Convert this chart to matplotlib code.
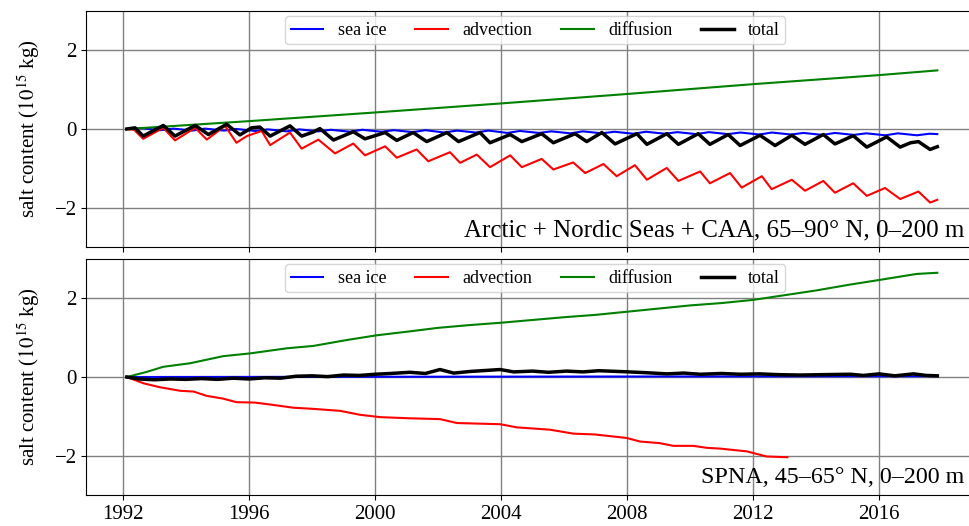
import matplotlib
matplotlib.use('Agg')
import matplotlib.pyplot as plt

plt.rcParams['font.family'] = ['Liberation Serif', 'DejaVu Serif']
plt.rcParams['mathtext.fontset'] = 'stix'

# ---- Arctic + Nordic Seas + CAA (top panel) ----
ice_arc_t = [1992.1, 1992.6, 1993.2, 1993.6, 1994.2, 1994.6, 1995.2, 1995.6, 1996.2, 1996.6,
             1997.2, 1997.6, 1998.2, 1998.6, 1999.2, 1999.6, 2000.2, 2000.6, 2001.2, 2001.6,
             2002.2, 2002.6, 2003.2, 2003.6, 2004.2, 2004.6, 2005.2, 2005.6, 2006.2, 2006.6,
             2007.2, 2007.6, 2008.2, 2008.6, 2009.2, 2009.6, 2010.2, 2010.6, 2011.2, 2011.6,
             2012.2, 2012.6, 2013.2, 2013.6, 2014.2, 2014.6, 2015.2, 2015.6, 2016.2, 2016.6,
             2017.2, 2017.6, 2017.85]
ice_arc = [0.00, 0.02, -0.03, 0.01, -0.04, 0.01, -0.04, 0.00, -0.05, -0.01,
           -0.06, -0.01, -0.06, -0.02, -0.07, -0.02, -0.07, -0.03, -0.08, -0.03,
           -0.09, -0.04, -0.09, -0.04, -0.10, -0.05, -0.10, -0.06, -0.11, -0.06,
           -0.11, -0.07, -0.12, -0.07, -0.12, -0.08, -0.13, -0.08, -0.13, -0.09,
           -0.14, -0.09, -0.14, -0.10, -0.15, -0.10, -0.15, -0.11, -0.16, -0.11,
           -0.16, -0.12, -0.13]

adv_arc_t = [1992.12, 1992.35, 1992.64, 1993.28, 1993.65, 1994.29, 1994.66, 1995.24, 1995.60, 1995.93,
             1996.40, 1996.67, 1997.30, 1997.67, 1998.20, 1998.73, 1999.31, 1999.68, 2000.32, 2000.69,
             2001.32, 2001.69, 2002.38, 2002.70, 2003.23, 2003.65, 2004.29, 2004.66, 2005.29, 2005.66,
             2006.29, 2006.67, 2007.25, 2007.67, 2008.25, 2008.63, 2009.26, 2009.63, 2010.32, 2010.63,
             2011.27, 2011.64, 2012.28, 2012.59, 2013.23, 2013.65, 2014.23, 2014.60, 2015.18, 2015.61,
             2016.19, 2016.67, 2017.25, 2017.62, 2017.85]
adv_arc = [0.00, -0.02, -0.25, 0.03, -0.29, 0.03, -0.27, 0.08, -0.35, -0.18,
           -0.05, -0.41, -0.09, -0.50, -0.27, -0.62, -0.37, -0.67, -0.44, -0.73,
           -0.52, -0.82, -0.59, -0.86, -0.65, -0.97, -0.67, -0.97, -0.76, -1.03,
           -0.85, -1.12, -0.89, -1.20, -0.92, -1.29, -0.99, -1.32, -1.08, -1.38,
           -1.12, -1.49, -1.20, -1.53, -1.29, -1.57, -1.32, -1.62, -1.38, -1.70,
           -1.50, -1.78, -1.59, -1.87, -1.80]

dif_arc_t = [1992.12, 1996.0, 2000.0, 2004.0, 2008.0, 2012.0, 2016.0, 2017.85]
dif_arc = [0.00, 0.20, 0.42, 0.65, 0.89, 1.14, 1.37, 1.49]

tot_arc_t = [1992.12, 1992.38, 1992.64, 1993.28, 1993.65, 1994.29, 1994.71, 1995.29, 1995.71, 1996.08,
             1996.34, 1996.67, 1997.30, 1997.67, 1998.03, 1998.25, 1998.68, 1999.31, 1999.68, 2000.32,
             2000.69, 2001.21, 2001.64, 2002.28, 2002.65, 2003.33, 2003.65, 2004.29, 2004.66, 2005.29,
             2005.66, 2006.35, 2006.72, 2007.20, 2007.62, 2008.31, 2008.63, 2009.26, 2009.63, 2010.26,
             2010.63, 2011.21, 2011.59, 2012.22, 2012.70, 2013.23, 2013.65, 2014.23, 2014.60, 2015.18,
             2015.61, 2016.24, 2016.67, 2017.00, 2017.25, 2017.62, 2017.85]
tot_arc = [0.00, 0.03, -0.18, 0.09, -0.18, 0.09, -0.14, 0.12, -0.15, 0.03,
           0.05, -0.18, 0.08, -0.18, -0.08, 0.01, -0.28, -0.07, -0.25, -0.09,
           -0.29, -0.09, -0.32, -0.09, -0.32, -0.09, -0.35, -0.14, -0.32, -0.12,
           -0.35, -0.12, -0.32, -0.09, -0.38, -0.12, -0.39, -0.12, -0.39, -0.12,
           -0.39, -0.14, -0.42, -0.16, -0.42, -0.16, -0.39, -0.14, -0.38, -0.17,
           -0.46, -0.20, -0.46, -0.35, -0.32, -0.52, -0.45]

# ---- SPNA (bottom panel) ----
ice_spna_t = [1992.12, 2005.0, 2017.85]
ice_spna = [0.00, 0.01, 0.02]

adv_spna_t = [1992.12, 1992.65, 1993.17, 1993.81, 1994.24, 1994.66, 1995.18, 1995.60, 1996.19, 1996.77,
              1997.40, 1998.04, 1998.89, 1999.52, 2000.16, 2001.11, 2002.06, 2002.60, 2003.97, 2004.50,
              2005.56, 2006.30, 2006.97, 2007.99, 2008.41, 2009.03, 2009.47, 2010.10, 2010.53, 2010.95,
              2011.80, 2012.43, 2013.09]
adv_spna = [0.00, -0.16, -0.26, -0.35, -0.37, -0.48, -0.55, -0.64, -0.65, -0.71,
            -0.78, -0.81, -0.86, -0.96, -1.02, -1.05, -1.07, -1.17, -1.20, -1.28,
            -1.34, -1.44, -1.46, -1.55, -1.64, -1.68, -1.75, -1.75, -1.80, -1.82,
            -1.89, -2.02, -2.04]

dif_spna_t = [1992.12, 1992.75, 1993.28, 1994.13, 1995.18, 1996.03, 1997.20, 1998.04, 1999.10, 2000.05,
              2001.10, 2002.0, 2003.0, 2004.0, 2005.0, 2006.0, 2007.0, 2008.0, 2009.0, 2010.0,
              2011.0, 2012.0, 2013.0, 2014.0, 2015.08, 2016.03, 2017.19, 2017.85]
dif_spna = [0.00, 0.13, 0.26, 0.35, 0.53, 0.60, 0.73, 0.79, 0.94, 1.06,
            1.16, 1.25, 1.32, 1.38, 1.45, 1.52, 1.58, 1.66, 1.74, 1.82,
            1.88, 1.96, 2.08, 2.20, 2.35, 2.47, 2.62, 2.65]

tot_spna_t = [1992.12, 1992.5, 1993.0, 1993.5, 1994.0, 1994.5, 1995.0, 1995.5, 1996.0, 1996.5,
              1997.0, 1997.5, 1998.0, 1998.5, 1999.0, 1999.5, 2000.0, 2000.5, 2001.1, 2001.6,
              2002.06, 2002.5, 2003.0, 2003.97, 2004.4, 2005.0, 2005.5, 2006.08, 2006.6, 2007.1,
              2008.06, 2008.6, 2009.26, 2009.8, 2010.32, 2011.0, 2011.6, 2012.2, 2012.8, 2013.5,
              2014.2, 2015.1, 2015.5, 2016.0, 2016.5, 2017.09, 2017.5, 2017.85]
tot_spna = [0.00, -0.05, -0.07, -0.05, -0.06, -0.04, -0.06, -0.03, -0.05, -0.02,
            -0.03, 0.02, 0.03, 0.01, 0.05, 0.04, 0.07, 0.09, 0.12, 0.09,
            0.19, 0.10, 0.14, 0.19, 0.13, 0.15, 0.12, 0.15, 0.13, 0.16,
            0.13, 0.11, 0.08, 0.10, 0.07, 0.09, 0.07, 0.08, 0.06, 0.05,
            0.06, 0.07, 0.04, 0.08, 0.03, 0.08, 0.04, 0.03]

panels = [
    (ice_arc_t, ice_arc, adv_arc_t, adv_arc, dif_arc_t, dif_arc, tot_arc_t, tot_arc,
     'Arctic + Nordic Seas + CAA, 65–90° N, 0–200 m', 18, 0.025),
    (ice_spna_t, ice_spna, adv_spna_t, adv_spna, dif_spna_t, dif_spna, tot_spna_t, tot_spna,
     'SPNA, 45–65° N, 0–200 m', 17.3, 0.03),
]

fig = plt.figure(figsize=(9.7, 5.26), dpi=100)
# axes run past the right edge of the figure, as in the original
ax1 = fig.add_axes([0.089, 0.5304, 0.94, 0.4487])
ax2 = fig.add_axes([0.089, 0.0589, 0.94, 0.4487], sharex=ax1)

for ax, p in zip([ax1, ax2], panels):
    ax.plot(p[0], p[1], color='blue', lw=1.5, label='sea ice')
    ax.plot(p[2], p[3], color='red', lw=1.5, label='advection')
    ax.plot(p[4], p[5], color='green', lw=1.5, label='diffusion')
    ax.plot(p[6], p[7], color='black', lw=2.5, label='total')
    ax.set_ylim(-3, 3)
    ax.set_yticks([-2, 0, 2])
    ax.grid(True, color='gray', lw=1)
    ax.spines['right'].set_visible(False)
    ax.set_ylabel('salt content ($10^{15}$ kg)', fontsize=15, labelpad=9)
    ax.tick_params(labelsize=15)
    ax.text(0.963, p[10], p[8], transform=ax.transAxes, ha='right', va='bottom', fontsize=p[9])
    ax.legend(loc='upper center', ncol=4, fontsize=13, borderaxespad=0.3,
              handlelength=1.8, columnspacing=1.6, borderpad=0.3,
              bbox_to_anchor=(0.4925, 1.0))

ax1.set_xlim(1990.835, 2019.78)
ax1.set_xticks(range(1992, 2017, 4))
plt.setp(ax1.get_xticklabels(), visible=False)

plt.savefig('out.png', dpi=100)
